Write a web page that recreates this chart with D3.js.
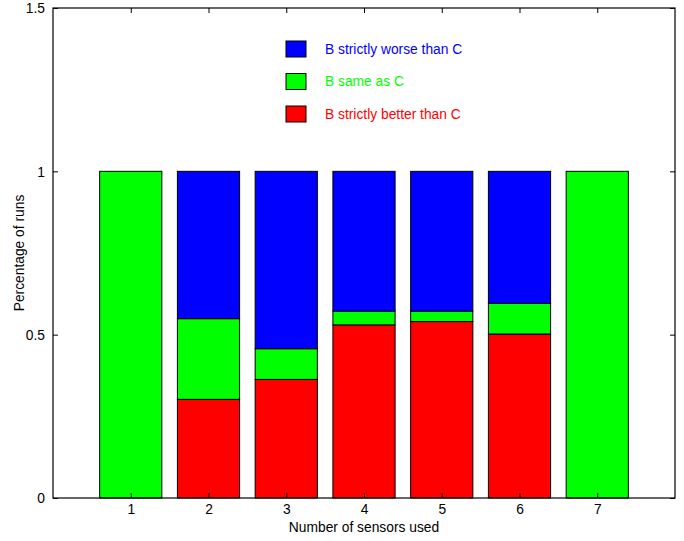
<!DOCTYPE html>
<html>
<head>
<meta charset="utf-8">
<script src="https://cdn.jsdelivr.net/npm/d3@7"></script>
<style>
  body { margin: 0; background: #fff; }
  text { font-family: "Liberation Sans", Arial, Helvetica, sans-serif; }
</style>
</head>
<body>
<svg width="684" height="541"></svg>
<script>
// data
const sensors = [1, 2, 3, 4, 5, 6, 7];
const better = [0, 0.302, 0.363, 0.530, 0.540, 0.502, 0];
const same = [1, 0.247, 0.094, 0.042, 0.032, 0.094, 1];
const worse = [0, 0.451, 0.543, 0.428, 0.428, 0.404, 0];
const yTicks = [0, 0.5, 1, 1.5];

const keys = ["better", "same", "worse"];
const labels = {
  worse: "B strictly worse than C",
  same: "B same as C",
  better: "B strictly better than C",
};
const colors = { better: "#ff0000", same: "#00ff00", worse: "#0000ff" };
const fs = "13.8px";

const table = sensors.map((s, i) => ({
  n: s,
  better: better[i],
  same: same[i],
  worse: worse[i],
}));

const svg = d3.select("svg");
const margin = { left: 53, right: 9, top: 8, bottom: 43 };
const width = +svg.attr("width");
const height = +svg.attr("height");
const x0 = margin.left, x1 = width - margin.right;
const y0 = height - margin.bottom, y1 = margin.top;

const x = d3.scaleLinear().domain([0, 8]).range([x0, x1]);
const y = d3.scaleLinear().domain([0, 1.5]).range([y0, y1]);
const barW = (x(1) - x(0)) * 0.8;

const stack = d3.stack().keys(keys)(table);

// bars
svg
  .append("g")
  .selectAll("g")
  .data(stack)
  .enter()
  .append("g")
  .attr("fill", (d) => colors[d.key])
  .selectAll("rect")
  .data((d) => d.filter((p) => p[1] - p[0] > 0))
  .enter()
  .append("rect")
  .attr("x", (d) => x(d.data.n) - barW / 2)
  .attr("y", (d) => y(d[1]))
  .attr("width", barW)
  .attr("height", (d) => y(d[0]) - y(d[1]))
  .attr("stroke", "#000")
  .attr("stroke-width", 1);

// box
svg
  .append("rect")
  .attr("x", x0)
  .attr("y", y1)
  .attr("width", x1 - x0)
  .attr("height", y0 - y1)
  .attr("fill", "none")
  .attr("stroke", "#000")
  .attr("stroke-width", 1.2);

// axes, ticks pointing inward like matlab
const axisY = d3.axisLeft(y).tickValues(yTicks).tickSize(-5).tickPadding(8)
  .tickFormat(d3.format("~g"));
const axisX = d3.axisBottom(x).tickValues(sensors).tickSize(-5).tickPadding(6);

const gy = svg.append("g").attr("transform", `translate(${x0},0)`).call(axisY);
const gyr = svg.append("g").attr("transform", `translate(${x1},0)`)
  .call(d3.axisRight(y).tickValues(yTicks).tickSize(-5).tickFormat(""));
const gx = svg.append("g").attr("transform", `translate(0,${y0})`).call(axisX);
const gxt = svg.append("g").attr("transform", `translate(0,${y1})`)
  .call(d3.axisTop(x).tickValues(sensors).tickSize(-5).tickFormat(""));

[gy, gyr, gx, gxt].forEach((g) => {
  g.select(".domain").remove();
  g.selectAll("line").attr("stroke", "#000");
  g.selectAll("text")
    .attr("fill", "#000")
    .style("font-size", fs)
    .style("font-family", '"Liberation Sans", Arial, sans-serif');
});
gy.selectAll("text").attr("dy", "0.36em");

// axis titles
svg
  .append("text")
  .attr("x", (x0 + x1) / 2)
  .attr("y", 532)
  .attr("text-anchor", "middle")
  .style("font-size", fs)
  .text("Number of sensors used");

svg
  .append("text")
  .attr("transform", `translate(24,${(y0 + y1) / 2}) rotate(-90)`)
  .attr("text-anchor", "middle")
  .style("font-size", fs)
  .text("Percentage of runs");

// legend
const legendKeys = ["worse", "same", "better"];
const legend = svg
  .append("g")
  .selectAll("g")
  .data(legendKeys)
  .enter()
  .append("g")
  .attr("transform", (d, i) => `translate(286,${41 + i * 32.5})`);

legend
  .append("rect")
  .attr("width", 20)
  .attr("height", 16)
  .attr("fill", (d) => colors[d])
  .attr("stroke", "#000");

legend
  .append("text")
  .attr("x", 39)
  .attr("y", 8)
  .attr("dy", "0.36em")
  .attr("fill", (d) => colors[d])
  .style("font-size", fs)
  .text((d) => labels[d]);
</script>
</body>
</html>
